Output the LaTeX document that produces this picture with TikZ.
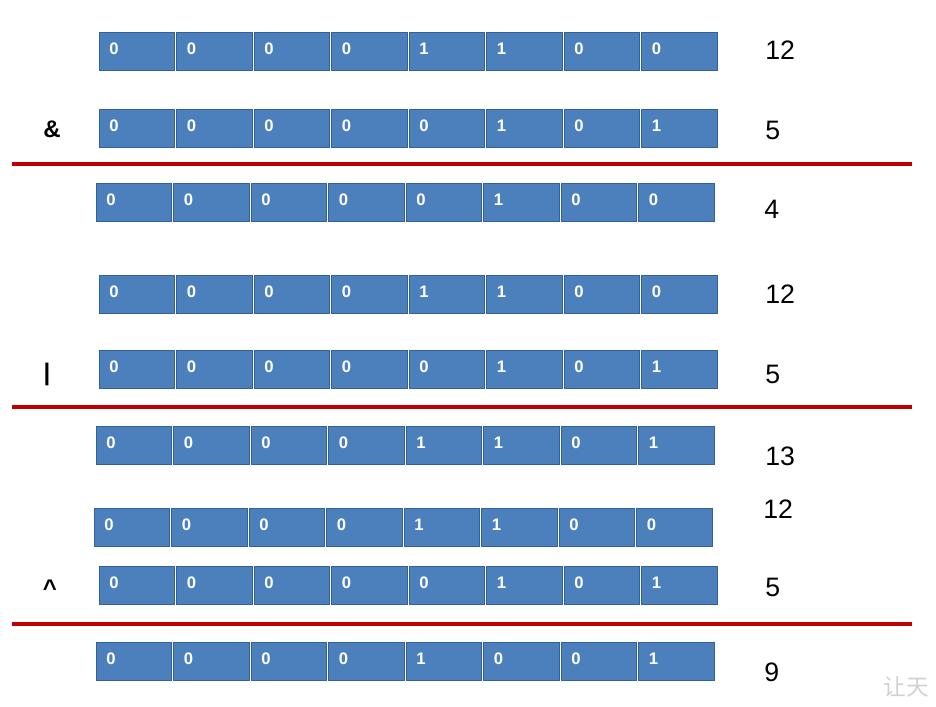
\documentclass[tikz,border=0pt]{standalone}
\usepackage{fontspec}
\setmainfont{Liberation Sans}
\newfontfamily\cjk{Noto Sans CJK SC}
\usepackage{tikz}

\definecolor{cellblue}{RGB}{76,128,189}
\definecolor{cellline}{RGB}{52,98,152}
\definecolor{rulered}{RGB}{192,0,0}

\tikzset{
  cell/.style={draw=cellline, fill=cellblue, line width=0.6pt, minimum width=56.6pt, minimum height=28.5pt, inner sep=0pt, outer sep=0pt},
  bit/.style={anchor=base west, inner sep=0pt, text=white, font=\fontsize{12.5}{14}\selectfont\bfseries},
  val/.style={anchor=west, inner sep=0.75pt, font=\fontsize{20}{24}\selectfont},
  op/.style={anchor=center, inner sep=0.75pt, font=\fontsize{18}{22}\selectfont\bfseries},
  sepline/.style={draw=rulered, line width=2.4pt}
}

\begin{document}
\begin{tikzpicture}[x=0.75pt,y=0.75pt,yscale=-1,xscale=1]
\useasboundingbox (0,0) rectangle (936,707);

% Row: 12
\foreach \b [count=\i] in {0,0,0,0,1,1,0,0}{
  \node[cell] (ra\i) at (98+77.5*\i-38.75,51) {};
  \node[bit] (ba\i) at ([shift={(10,22)}]ra\i.north west) {\b};
}
% Row: 5 (&)
\foreach \b [count=\i] in {0,0,0,0,0,1,0,1}{
  \node[cell] (rb\i) at (98+77.5*\i-38.75,128) {};
  \node[bit] (bb\i) at ([shift={(10,22)}]rb\i.north west) {\b};
}
% Row: 4
\foreach \b [count=\i] in {0,0,0,0,0,1,0,0}{
  \node[cell] (rc\i) at (95+77.5*\i-38.75,202) {};
  \node[bit] (bc\i) at ([shift={(10,22)}]rc\i.north west) {\b};
}
% Row: 12
\foreach \b [count=\i] in {0,0,0,0,1,1,0,0}{
  \node[cell] (rd\i) at (98+77.5*\i-38.75,294) {};
  \node[bit] (bd\i) at ([shift={(10,22)}]rd\i.north west) {\b};
}
% Row: 5 (|)
\foreach \b [count=\i] in {0,0,0,0,0,1,0,1}{
  \node[cell] (re\i) at (98+77.5*\i-38.75,369) {};
  \node[bit] (be\i) at ([shift={(10,22)}]re\i.north west) {\b};
}
% Row: 13
\foreach \b [count=\i] in {0,0,0,0,1,1,0,1}{
  \node[cell] (rf\i) at (95+77.5*\i-38.75,445) {};
  \node[bit] (bf\i) at ([shift={(10,22)}]rf\i.north west) {\b};
}
% Row: 12
\foreach \b [count=\i] in {0,0,0,0,1,1,0,0}{
  \node[cell] (rg\i) at (93+77.5*\i-38.75,527) {};
  \node[bit] (bg\i) at ([shift={(10,22)}]rg\i.north west) {\b};
}
% Row: 5 (^)
\foreach \b [count=\i] in {0,0,0,0,0,1,0,1}{
  \node[cell] (rh\i) at (98+77.5*\i-38.75,585) {};
  \node[bit] (bh\i) at ([shift={(10,22)}]rh\i.north west) {\b};
}
% Row: 9
\foreach \b [count=\i] in {0,0,0,0,1,0,0,1}{
  \node[cell] (ri\i) at (95+77.5*\i-38.75,661) {};
  \node[bit] (bi\i) at ([shift={(10,22)}]ri\i.north west) {\b};
}

% Text Node
\node[val] (va) at (764,50) {12};
\node[val] (vb) at (764,130) {5};
\node[val] (vc) at (763,209) {4};
\node[val] (vd) at (764,294) {12};
\node[val] (ve) at (764,374) {5};
\node[val] (vf) at (764,456) {13};
\node[val] (vg) at (762,509) {12};
\node[val] (vh) at (764,587) {5};
\node[val] (vi) at (763,672) {9};

% Text Node
\node[op] (opand) at (52,129) {\&};
\node[op] (opor) at (47,374) {|};
\node[op] (opxor) at (50,588) {\textasciicircum};

%Straight Lines
\coordinate (la) at (12,164);
\coordinate (lb) at (912,164);
\draw[sepline] (la) -- (lb);
\coordinate (lc) at (12,407);
\coordinate (ld) at (912,407);
\draw[sepline] (lc) -- (ld);
\coordinate (le) at (12,624);
\coordinate (lf) at (912,624);
\draw[sepline] (le) -- (lf);

% Text Node
\node[anchor=center, text=black!18, font=\cjk\fontsize{17}{20}\selectfont] (mark) at (906,687) {让天};

\end{tikzpicture}
\end{document}
